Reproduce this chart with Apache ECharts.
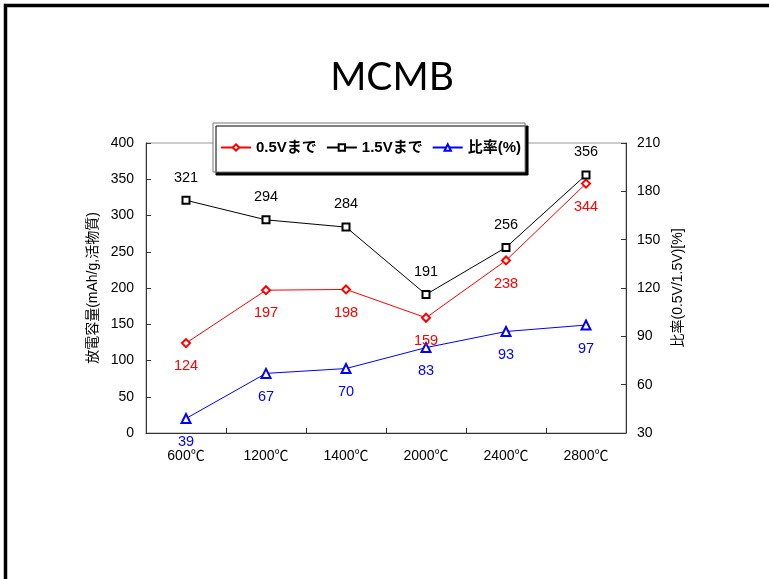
<!DOCTYPE html>
<html>
<head>
<meta charset="utf-8">
<script src="https://cdn.jsdelivr.net/npm/echarts@6/dist/echarts.min.js"></script>
<style>
  html, body { margin: 0; padding: 0; background: #fff; }
  #chart { width: 769px; height: 579px; }
</style>
</head>
<body>
<div id="chart"></div>
<script>
// Heat-treatment temperatures of MCMB samples
var categories = ['600℃', '1200℃', '1400℃', '2000℃', '2400℃', '2800℃'];
// Discharge capacity (mAh/g) up to 0.5 V and up to 1.5 V
var cap05V = [124, 197, 198, 159, 238, 344];
var cap15V = [321, 294, 284, 191, 256, 356];
// Ratio 0.5V / 1.5V (%)
var ratio = [39, 67, 70, 83, 93, 97];

var seriesNames = ['0.5Vまで', '1.5Vまで', '比率(%)'];
var leftTicks = { min: 0, max: 400, interval: 50 };
var rightTicks = { min: 30, max: 210, interval: 30 };

var FONT = '"Liberation Sans", "Noto Sans CJK JP", sans-serif';
var AXIS_COLOR = '#333';

var chart = echarts.init(document.getElementById('chart'), null, { renderer: 'canvas' });

function valueAxis(range, pos, name, gap, margin) {
  return {
    type: 'value',
    position: pos,
    min: range.min,
    max: range.max,
    interval: range.interval,
    name: name,
    nameLocation: 'middle',
    nameRotate: 90,
    nameGap: gap,
    nameTextStyle: { fontFamily: FONT, fontSize: 14, color: '#000' },
    axisLine: { show: true, lineStyle: { color: AXIS_COLOR, width: 1 } },
    axisTick: { show: true, inside: true, length: 5, lineStyle: { color: AXIS_COLOR } },
    axisLabel: { fontFamily: FONT, fontSize: 14, color: '#000', margin: margin },
    splitLine: { show: false }
  };
}

function lineSeries(name, data, color, symbol, size, yIndex, labelPos) {
  return {
    name: name,
    type: 'line',
    data: data,
    yAxisIndex: yIndex,
    symbol: symbol,
    symbolSize: size,
    showAllSymbol: true,
    itemStyle: { color: color, borderWidth: 1 },
    lineStyle: { color: color, width: 1 },
    label: {
      show: true,
      position: labelPos,
      distance: 11,
      fontFamily: FONT,
      fontSize: 14.5,
      color: color
    },
    animation: false,
    z: 3
  };
}

chart.setOption({
  backgroundColor: '#fff',
  animation: false,
  grid: {
    left: 146, right: 143, top: 143, bottom: 146,
    show: true, borderColor: '#999', borderWidth: 1, backgroundColor: 'transparent'
  },
  legend: {
    data: seriesNames,
    left: 213,
    top: 123,
    orient: 'horizontal',
    itemWidth: 30,
    itemHeight: 8,
    itemGap: 9,
    padding: [17, 4, 17, 7],
    backgroundColor: '#fff',
    borderColor: '#777',
    borderWidth: 1,
    borderRadius: 0,
    shadowColor: '#000',
    shadowBlur: 0,
    shadowOffsetX: 3,
    shadowOffsetY: 3,
    textStyle: { fontFamily: FONT, fontSize: 15, fontWeight: 'bold', color: '#000' },
    z: 10
  },
  xAxis: {
    type: 'category',
    data: categories,
    boundaryGap: true,
    axisLine: { show: true, lineStyle: { color: AXIS_COLOR, width: 1 } },
    axisTick: { show: true, inside: true, length: 5, alignWithLabel: false, lineStyle: { color: AXIS_COLOR } },
    axisLabel: { fontFamily: FONT, fontSize: 14, color: '#000', margin: 16 },
    splitLine: { show: false }
  },
  yAxis: [
    valueAxis(leftTicks, 'left', '放電容量(mAh/g,活物質)', 45, 12),
    valueAxis(rightTicks, 'right', '比率(0.5V/1.5V)[%]', 30, 11)
  ],
  graphic: [{
    type: 'text',
    x: 392,
    y: 77,
    style: {
      text: 'MCMB',
      align: 'center',
      verticalAlign: 'middle',
      font: '39px Lato, "Open Sans", sans-serif',
      fill: '#000'
    },
    z: 100
  }, {
    type: 'rect',
    shape: { x: 5.5, y: 5.5, width: 820, height: 640 },
    style: { fill: 'none', stroke: '#000', lineWidth: 3.5 },
    z: 100
  }],
  series: [
    lineSeries(seriesNames[0], cap05V, '#ff0000', 'emptyDiamond', 8, 0, 'bottom'),
    lineSeries(seriesNames[1], cap15V, '#000000', 'emptyRect', 7, 0, 'top'),
    lineSeries(seriesNames[2], ratio, '#0000ff', 'emptyTriangle', 9, 1, 'bottom')
  ]
});
</script>
</body>
</html>
